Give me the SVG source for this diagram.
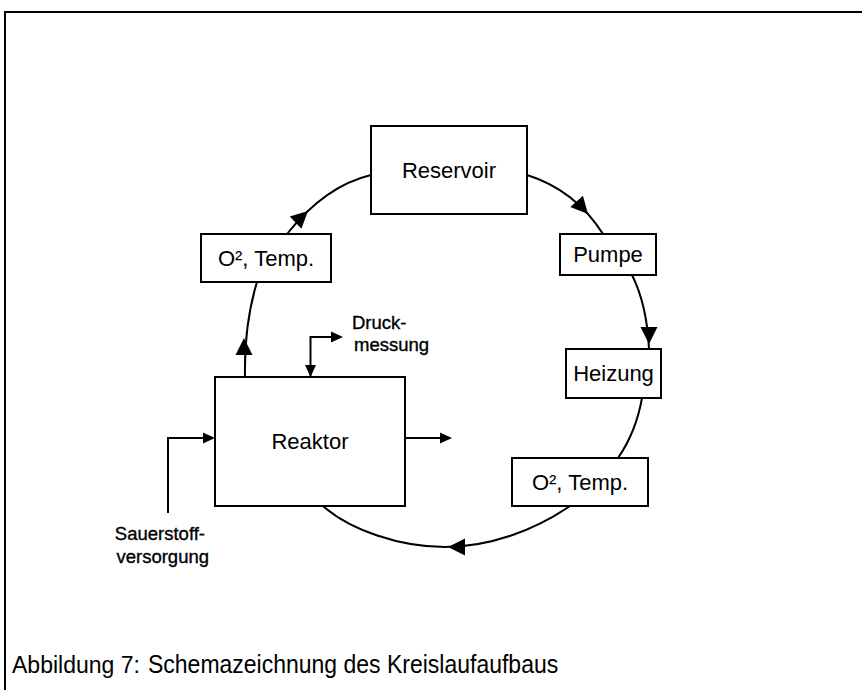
<svg xmlns="http://www.w3.org/2000/svg" xmlns:xlink="http://www.w3.org/1999/xlink" width="862" height="690" viewBox="0 0 862 690">
<style>
.box{fill:#fff;stroke:#000;stroke-width:2}
.lbl{font-family:"Liberation Sans",Arial,sans-serif;font-size:22px;fill:#000;text-anchor:middle}
.sm{font-family:"Liberation Sans",Arial,sans-serif;font-size:18.5px;fill:#000;stroke:#000;stroke-width:0.35}
.ln{fill:none;stroke:#000;stroke-width:2}
.cap{font-family:"Liberation Sans",Arial,sans-serif;font-size:23px;fill:#000}
</style>
<defs>
<path id="ah" d="M0,0 L-17,-8.5 L-17,8.5 Z" fill="#000"/>
<path id="as" d="M0,0 L-12,-5.5 L-12,5.5 Z" fill="#000"/>
</defs>
<rect x="0" y="0" width="862" height="690" fill="#fff"/>
<rect x="5" y="12" width="880" height="700" fill="none" stroke="#000" stroke-width="2"/>
<g id="connectors">
<path class="ln" d="M245,377 Q244,325 257,282"/>
<use xlink:href="#ah" transform="translate(244,338) rotate(-90)"/>
<path class="ln" d="M287,234 Q325,186 371,175"/>
<use xlink:href="#ah" transform="translate(308,211) rotate(-43)"/>
<path class="ln" d="M527,175 Q575,190 603,234"/>
<use xlink:href="#ah" transform="translate(588,214) rotate(48)"/>
<path class="ln" d="M632,275 Q647,305 649,349"/>
<use xlink:href="#ah" transform="translate(649,344) rotate(90)"/>
<path class="ln" d="M642,398 Q636,432 618,458"/>
<path class="ln" d="M570,506 C535,530 490,547 445,547 C400,547 350,530 323,506"/>
<use xlink:href="#ah" transform="translate(448,547) rotate(180)"/>
<path class="ln" d="M310.5,377 V337 H336"/>
<use xlink:href="#as" transform="translate(343,337)"/>
<use xlink:href="#as" transform="translate(310.5,377) rotate(90)"/>
<path class="ln" d="M168,513 V438 H206"/>
<use xlink:href="#as" transform="translate(215,438)"/>
<path class="ln" d="M405,438 H442"/>
<use xlink:href="#as" transform="translate(452,438)"/>
</g>
<g id="reservoir">
<rect class="box" x="371" y="126" width="156" height="88"/>
<text class="lbl" x="449" y="178">Reservoir</text>
</g>
<g id="sensor1">
<rect class="box" x="201" y="234" width="130" height="48"/>
<text class="lbl" x="266" y="266">O², Temp.</text>
</g>
<g id="pumpe">
<rect class="box" x="560" y="234" width="96" height="41"/>
<text class="lbl" x="608" y="262">Pumpe</text>
</g>
<g id="heizung">
<rect class="box" x="566" y="349" width="95" height="49"/>
<text class="lbl" x="613.5" y="381">Heizung</text>
</g>
<g id="sensor2">
<rect class="box" x="512" y="458" width="136" height="48"/>
<text class="lbl" x="580" y="490">O², Temp.</text>
</g>
<g id="reaktor">
<rect class="box" x="215" y="377" width="190" height="129"/>
<text class="lbl" x="310" y="449">Reaktor</text>
</g>
<g id="druckmessung">
<text class="sm" x="352" y="329">Druck-</text>
<text class="sm" x="354" y="351">messung</text>
</g>
<g id="sauerstoff">
<text class="sm" x="205" y="540" text-anchor="end">Sauerstoff-</text>
<text class="sm" x="209" y="563" text-anchor="end">versorgung</text>
</g>
<text class="cap" x="12" y="673">Abbildung 7:</text>
<text class="cap" transform="translate(148,673) scale(1,1.12)" x="0" y="0">Schemazeichnung des Kreislaufaufbaus</text>
</svg>
